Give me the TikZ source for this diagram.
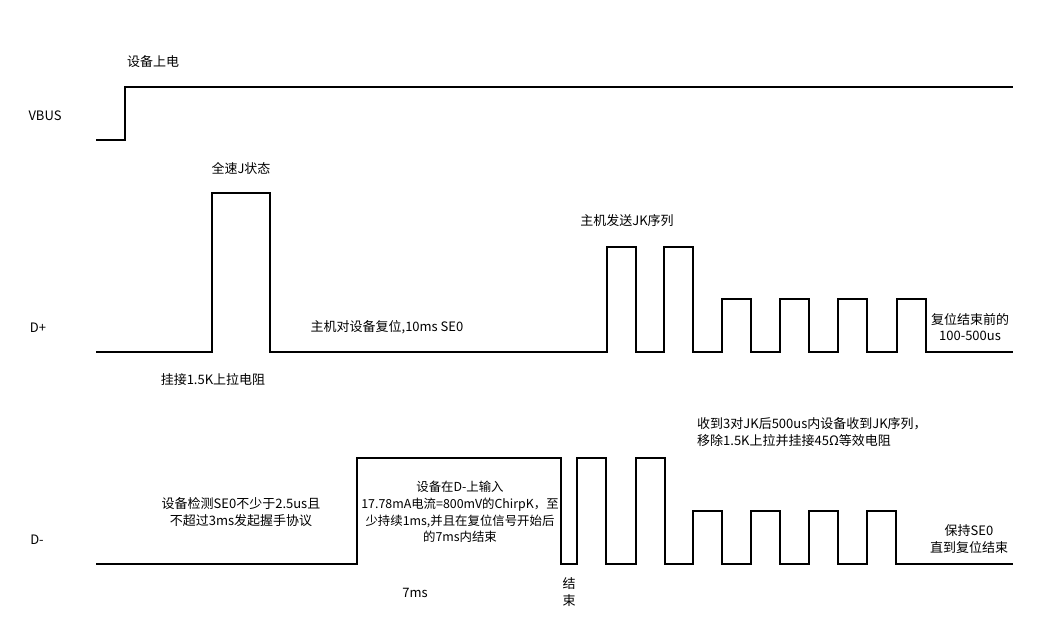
\documentclass[tikz,border=0pt]{standalone}
\usepackage{fontspec}
\setmainfont{Noto Sans CJK SC}
\begin{document}
\begin{tikzpicture}[x=1pt,y=-1pt,
    wave/.style={line width=1.2pt, line join=miter},
    lbl/.style={font=\fontsize{13}{16.7}\selectfont, inner sep=0pt, align=center}]
    \useasboundingbox (0,0) rectangle (1053,625);

    % VBUS
    \draw[wave] (96,140) -- (125,140) -- (125,87) -- (1013,87);
    \node[lbl] (vbus) at (45,116) {VBUS};
    \node[lbl] (power) at (153,62) {设备上电};

    % D+
    \draw[wave] (96,352) -- (212,352) -- (212,193) -- (270,193) -- (270,352)
        \foreach \x/\h in {607/247,664/247,722/299,780/299,838/299,897/299} {
            -- (\x,352) -- (\x,\h) -- (\x+29,\h) -- (\x+29,352)}
        -- (1013,352);
    \node[lbl] (dp) at (38,328) {D+};
    \node[lbl] (jstate) at (241,168) {全速J状态};
    \node[lbl] (pullup) at (213,380) {挂接1.5K上拉电阻};
    \node[lbl] (reset) at (387,327) {主机对设备复位,10ms SE0};
    \node[lbl] (hostjk) at (627,221) {主机发送JK序列};
    \node[lbl] (endpre) at (970,327) {复位结束前的\\100-500us};

    % D-
    \draw[wave] (96,564) -- (357,564) -- (357,458) -- (561,458) -- (561,564)
        \foreach \x/\h in {577/458,636/458,693/511,751/511,809/511,867/511} {
            -- (\x,564) -- (\x,\h) -- (\x+29,\h) -- (\x+29,564)}
        -- (1013,564);
    \node[lbl] (dm) at (37,540) {D-};
    \node[lbl] (detect) at (241,512) {设备检测SE0不少于2.5us且\\不超过3ms发起握手协议};
    \node[lbl, font=\fontsize{12.4}{16.7}\selectfont] (chirp) at (460,512) {设备在D-上输入\\17.78mA电流=800mV的ChirpK，至\\少持续1ms,并且在复位信号开始后\\的7ms内结束};
    \node[lbl] (t7ms) at (415,593) {7ms};
    \node[lbl] (chirpend) at (569,592) {结\\束};
    \node[lbl, align=left, anchor=west] (devjk) at (697,432) {收到3对JK后500us内设备收到JK序列，\\移除1.5K上拉并挂接45Ω等效电阻};
    \node[lbl] (keep) at (969,539) {保持SE0\\直到复位结束};
\end{tikzpicture}
\end{document}
